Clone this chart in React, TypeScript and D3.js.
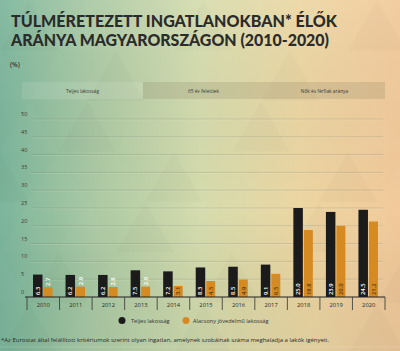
import * as d3 from 'd3';

const years = ['2010', '2011', '2012', '2013', '2014', '2015', '2016', '2017', '2018', '2019', '2020'];
const totalPop = [6.3, 6.2, 6.2, 7.5, 7.2, 8.3, 8.5, 9.1, 25.0, 23.9, 24.5];
const lowIncome = [2.7, 2.9, 2.8, 2.9, 3.1, 4.5, 4.9, 6.5, 18.8, 20.0, 21.2];
const yTicks = [0, 5, 10, 15, 20, 25, 30, 35, 40, 45, 50];
const tabs = ['Teljes lakosság', '65 év felettiek', 'Nők és férfiak aránya'];

const W = 400;
const H = 351;
const plot = { left: 27, right: 385, top: 119, bottom: 297 };
const black = '#1b1b1b';
const orange = '#d68a22';

const App = () => {
    const x = d3.scaleBand().domain(years).range([plot.left, plot.right]);
    const y = d3.scaleLinear().domain([0, 50]).range([plot.bottom, plot.top]);
    const barW = 9.5;
    const tabX = d3.scaleBand().domain(tabs).range([22, 385]);

    // faint triangle pattern in the background
    const tri = d3.range(0, 9).flatMap(c =>
        d3.range(0, 7).map(r => ({ c, r }))
    );

    return (
        <svg width={W} height={H} style={{ display: 'block', position: 'absolute', left: 0, top: 0 }}>
            <defs>
                <linearGradient id="bg" x1="0" y1="0" x2="1" y2="0">
                    <stop offset="0" stopColor="#7ab59b" />
                    <stop offset="0.22" stopColor="#a8c8a3" />
                    <stop offset="0.5" stopColor="#d5dcad" />
                    <stop offset="0.75" stopColor="#ecd6a2" />
                    <stop offset="1" stopColor="#f2c99a" />
                </linearGradient>
                <linearGradient id="shade" x1="0" y1="0" x2="0" y2="1">
                    <stop offset="0" stopColor="#ffffff" stopOpacity="0.08" />
                    <stop offset="0.6" stopColor="#000000" stopOpacity="0" />
                    <stop offset="1" stopColor="#4a6a60" stopOpacity="0.08" />
                </linearGradient>
            </defs>
            <rect width={W} height={H} fill="url(#bg)" />
            <rect width={W} height={H} fill="url(#shade)" />
            {tri.map(({ c, r }) => {
                const s = 58;
                const x0 = c * s - (r % 2) * (s / 2);
                const y0 = r * s * 0.87;
                return (
                    <path
                        key={`${c}-${r}`}
                        d={`M${x0},${y0 + s * 0.87}L${x0 + s / 2},${y0}L${x0 + s},${y0 + s * 0.87}Z`}
                        fill={(c + r) % 3 === 0 ? '#000' : '#fff'}
                        opacity={(c + r) % 3 === 0 ? 0.015 : 0.018}
                    />
                );
            })}

            {/* title */}
            <g fontFamily="Lato, 'Open Sans', sans-serif" fontWeight={900} fill="#2b2b2b" fontSize={17.5}>
                <text x={11} y={27} textLength={326} lengthAdjust="spacingAndGlyphs">
                    TÚLMÉRETEZETT INGATLANOKBAN* ÉLŐK
                </text>
                <text x={11} y={46} textLength={318} lengthAdjust="spacingAndGlyphs">
                    ARÁNYA MAGYARORSZÁGON (2010-2020)
                </text>
            </g>
            <text x={10} y={67} fontFamily="'Open Sans', sans-serif" fontSize={6.5} fill="#333" fontWeight={600}>
                (%)
            </text>

            {/* tabs */}
            <rect x={tabX(tabs[1])} y={82} width={385 - (tabX(tabs[1]) ?? 0)} height={17} fill="#8a8060" opacity={0.22} />
            <rect x={22} y={82} width={tabX.bandwidth()} height={17} fill="#ffffff" opacity={0.1} stroke="#ffffff" strokeOpacity={0.35} strokeWidth={0.6} />
            {tabs.map(t => (
                <text
                    key={t}
                    x={(tabX(t) ?? 0) + tabX.bandwidth() / 2}
                    y={92.5}
                    textAnchor="middle"
                    fontFamily="'Open Sans', sans-serif"
                    fontSize={4.8}
                    fill="#3a3a3a"
                >
                    {t}
                </text>
            ))}

            {/* grid */}
            {yTicks.map(t => (
                <g key={t}>
                    {t > 0 && (
                        <>
                            <line x1={31} x2={383} y1={y(t)} y2={y(t)} stroke="#5d6a55" strokeOpacity={0.28} strokeWidth={0.7} />
                            <line x1={31} x2={383} y1={y(t) + 0.9} y2={y(t) + 0.9} stroke="#ffffff" strokeOpacity={0.25} strokeWidth={0.6} />
                        </>
                    )}
                    <text x={21} y={y(t) - 3} fontFamily="'Open Sans', sans-serif" fontSize={5.5} fill="#3a3a3a">
                        {t}
                    </text>
                </g>
            ))}

            {/* bars */}
            {years.map((yr, i) => {
                const bx = (x(yr) ?? 0) + 6;
                const ox = bx + barW + 1;
                const cx1 = bx + barW / 2;
                const cx2 = ox + barW / 2;
                const lowInside = lowIncome[i] >= 3;
                return (
                    <g key={yr} fontFamily="'Open Sans', sans-serif" fontSize={5.8} fontWeight={600}>
                        <rect x={bx} y={y(totalPop[i])} width={barW} height={y(0) - y(totalPop[i])} fill={black} />
                        <rect x={ox} y={y(lowIncome[i])} width={barW - 0.5} height={y(0) - y(lowIncome[i])} fill={orange} />
                        <text
                            transform={`translate(${cx1 + 2},${y(0) - 2}) rotate(-90)`}
                            fill="#ffffff"
                        >
                            {totalPop[i].toFixed(1)}
                        </text>
                        <text
                            transform={
                                lowInside
                                    ? `translate(${cx2 + 2},${y(0) - 2}) rotate(-90)`
                                    : `translate(${cx2 + 2},${y(lowIncome[i]) - 1.5}) rotate(-90)`
                            }
                            fill={lowInside ? '#5a3a10' : '#ffffff'}
                        >
                            {lowIncome[i].toFixed(1)}
                        </text>
                    </g>
                );
            })}

            {/* x axis */}
            <line x1={plot.left - 2} x2={plot.right} y1={y(0)} y2={y(0)} stroke="#222" strokeWidth={1} />
            {years.map(yr => (
                <g key={yr}>
                    <line x1={x(yr)} x2={x(yr)} y1={y(0)} y2={y(0) + 13} stroke="#333" strokeWidth={0.8} />
                    <text
                        x={(x(yr) ?? 0) + x.bandwidth() / 2}
                        y={y(0) + 10}
                        textAnchor="middle"
                        fontFamily="'Open Sans', sans-serif"
                        fontSize={5.8}
                        fill="#2a2a2a"
                    >
                        {yr}
                    </text>
                </g>
            ))}
            <line x1={plot.right} x2={plot.right} y1={y(0)} y2={y(0) + 13} stroke="#333" strokeWidth={0.8} />

            {/* legend */}
            <g fontFamily="'Open Sans', sans-serif" fontSize={5.6} fill="#333">
                <circle cx={122} cy={320.5} r={3.5} fill={black} />
                <text x={131} y={322.5}>Teljes lakosság</text>
                <circle cx={186} cy={320.5} r={3.5} fill={orange} />
                <text x={193} y={322.5}>Alacsony jövedelmű lakosság</text>
            </g>

            {/* footnote */}
            <text x={1} y={342} fontFamily="'Open Sans', sans-serif" fontSize={5} fill="#2a2a2a" textLength={328} lengthAdjust="spacingAndGlyphs">
                *Az Eurostat által felállított kritériumok szerint olyan ingatlan, amelynek szobáinak száma meghaladja a lakók igényeit.
            </text>
            <line x1={0} x2={400} y1={347} y2={347} stroke="#ffffff" strokeOpacity={0.25} strokeWidth={0.6} />
        </svg>
    );
};

export default App;
